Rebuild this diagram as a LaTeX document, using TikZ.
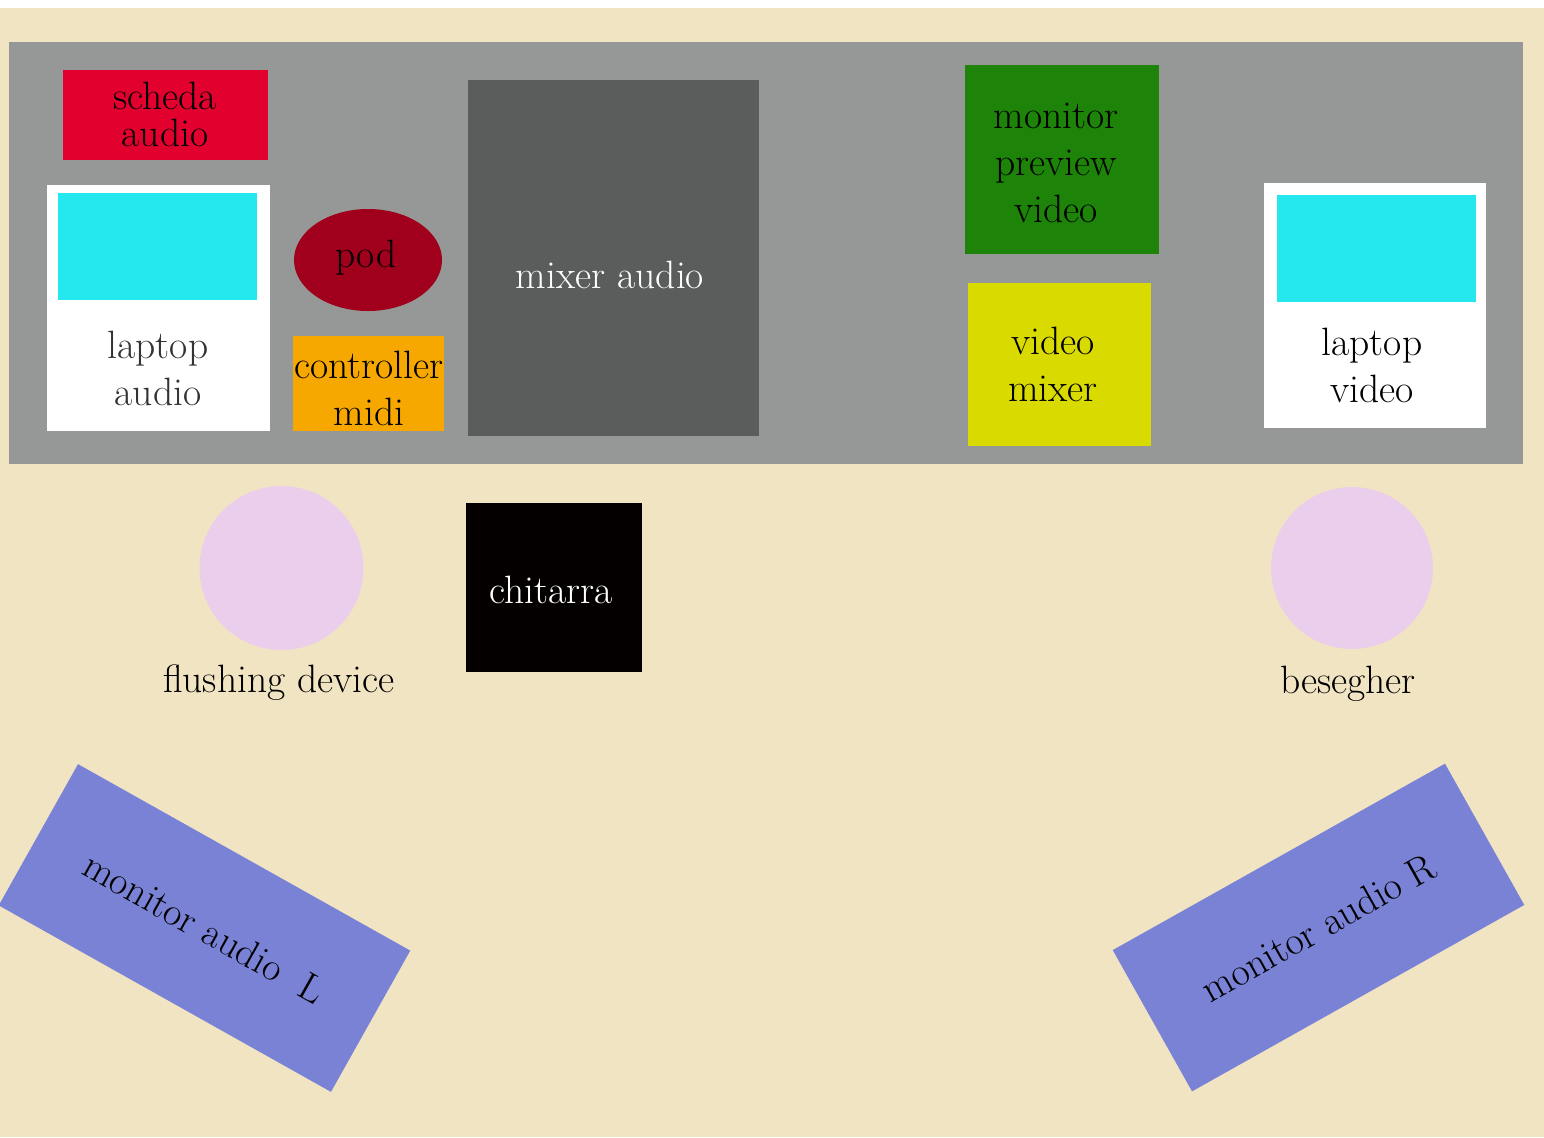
\documentclass[tikz,border=0pt]{standalone}
\usepackage{tikz}
\definecolor{floor}{HTML}{F1E4C3}
\definecolor{desk}{HTML}{959897}
\definecolor{schedared}{HTML}{E2002F}
\definecolor{screen}{HTML}{25E8EE}
\definecolor{podred}{HTML}{A1001C}
\definecolor{midiorange}{HTML}{F7A800}
\definecolor{mixergray}{HTML}{5A5D5C}
\definecolor{previewgreen}{HTML}{1E8309}
\definecolor{vmixyellow}{HTML}{D9DA00}
\definecolor{person}{HTML}{EBCEEB}
\definecolor{speaker}{HTML}{7A82D6}
\definecolor{guitar}{HTML}{050000}
\tikzset{
  lbl/.style={font=\fontsize{22.5}{26.7}\selectfont, align=center, inner sep=0pt, text=black},
  spk/.style={lbl, fill=speaker, minimum width=76.2mm, minimum height=32.4mm},
}
\begin{document}
\begin{tikzpicture}[x=0.2mm,y=-0.2mm]
  \useasboundingbox (0,0) rectangle (1544,1137);
  % floor
  \fill[white] (0,0) rectangle (1544,8);
  \fill[floor] (0,8) rectangle (1544,1137);
  % desk
  \fill[desk] (9,42) rectangle (1523,464);
  % scheda audio
  \fill[schedared] (63,70) rectangle (268,160);
  \node[lbl, font=\fontsize{22.5}{21}\selectfont] (scheda) at (165,114) {scheda\\audio};
  % laptop audio
  \fill[white] (47,185) rectangle (270,431);
  \fill[screen] (58,193) rectangle (257,300);
  \node[lbl, text=black!80] (laptopA) at (158,368) {laptop\\audio};
  % pod
  \fill[podred] (368,260) ellipse [x radius=74, y radius=51];
  \node[lbl, anchor=base] (pod) at (366,267) {pod};
  % controller midi
  \fill[midiorange] (293,336) rectangle (444,431);
  \node[lbl] (midi) at (369,388) {controller\\midi};
  % mixer audio
  \fill[mixergray] (468,80) rectangle (759,436);
  \node[lbl, text=white, anchor=base] (mixer) at (610,288) {mixer audio};
  % monitor preview video
  \fill[previewgreen] (965,65) rectangle (1159,254);
  \node[lbl] (preview) at (1056,163) {monitor\\preview\\video};
  % video mixer
  \fill[vmixyellow] (968,283) rectangle (1151,446);
  \node[lbl] (vmixer) at (1053,364) {video\\mixer};
  % laptop video
  \fill[white] (1264,183) rectangle (1486,428);
  \fill[screen] (1277,195) rectangle (1476,302);
  \node[lbl] (laptopV) at (1372,365) {laptop\\video};
  % players
  \fill[person] (281.5,568) circle (82);
  \node[lbl, anchor=base] (flushing) at (279,692) {flushing device};
  \fill[person] (1352,568) circle (81);
  \node[lbl, anchor=base] (besegher) at (1348,693) {besegher};
  % chitarra
  \fill[guitar] (466,503) rectangle (642,672);
  \node[lbl, text=white, anchor=base] (chitarra) at (551,603) {chitarra};
  % monitors
  \node[spk, rotate=-29.3] (monL) at (204.5,928) {monitor audio\ \ L};
  \node[spk, rotate=29.3] (monR) at (1318.5,927.5) {monitor audio R};
\end{tikzpicture}
\end{document}
